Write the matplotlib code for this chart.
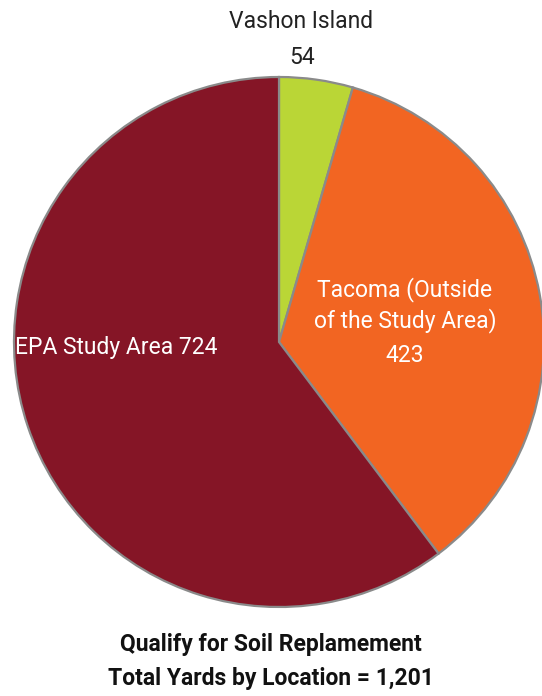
import matplotlib
matplotlib.use('Agg')
import matplotlib.pyplot as plt

locations = ['Vashon Island', 'Tacoma (Outside\nof the Study Area)', 'EPA Study Area']
yards = [54, 423, 724]
colors = ['#BAD636', '#F26522', '#851526']
title_lines = ['Qualify for Soil Replamement', 'Total Yards by Location = 1,201']

W, H = 542, 696
plt.rcParams['font.family'] = ['Roboto', 'DejaVu Sans']

fig = plt.figure(figsize=(W / 100, H / 100), dpi=100)
# pie centre (279, 342) px, radius 265 px
cx, cy, r = 279, 342, 265
ax = fig.add_axes([(cx - r) / W, (H - cy - r) / H, 2 * r / W, 2 * r / H])
ax.pie(yards, colors=colors, startangle=90, counterclock=False,
       wedgeprops=dict(edgecolor='#8a8a8a', linewidth=1.6))
ax.set_xlim(-1.0, 1.0)
ax.set_ylim(-1.0, 1.0)
ax.axis('off')


def px(x, y):
    return x / W, 1 - y / H


fs = 16.5
fig.text(*px(301, 22), locations[0], ha='center', va='center', fontsize=fs, color='#222222')
fig.text(*px(302, 57), f'{yards[0]}', ha='center', va='center', fontsize=fs, color='#222222')
fig.text(*px(405, 305), locations[1], ha='center', va='center', fontsize=fs,
         color='white', linespacing=1.35)
fig.text(*px(405, 356), f'{yards[1]}', ha='center', va='center', fontsize=fs, color='white')
fig.text(*px(15, 347), f'{locations[2]} {yards[2]}', ha='left', va='center', fontsize=fs, color='white')

fig.text(*px(271, 645), title_lines[0], ha='center', va='center', fontsize=16.5,
         fontweight='bold', color='#111111')
fig.text(*px(271, 678), title_lines[1], ha='center', va='center', fontsize=16.5,
         fontweight='bold', color='#111111')

fig.savefig('out.png', dpi=100)
